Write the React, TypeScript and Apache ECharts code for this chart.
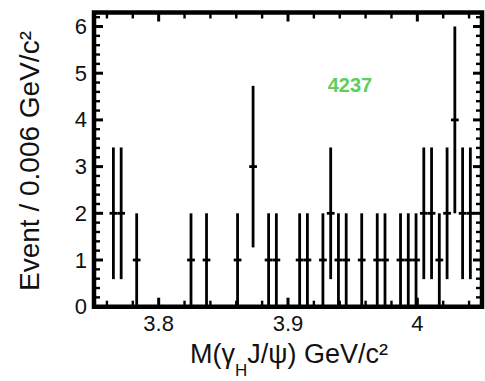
import React, { useEffect, useRef } from 'react';
import * as echarts from 'echarts';

// Bin centres (GeV/c^2), event counts and their error bars
const masses = [3.765, 3.771, 3.783, 3.825, 3.837, 3.861, 3.873, 3.885, 3.891, 3.909, 3.915, 3.927, 3.933, 3.939, 3.945, 3.957, 3.969, 3.975, 3.987, 3.993, 3.999, 4.005, 4.011, 4.017, 4.023, 4.029, 4.035, 4.041];
const counts = [2, 2, 1, 1, 1, 1, 3, 1, 1, 1, 1, 1, 2, 1, 1, 1, 1, 1, 1, 1, 1, 2, 2, 1, 2, 4, 2, 2];
const errors = [1.41, 1.41, 1, 1, 1, 1, 1.73, 1, 1, 1, 1, 1, 1.41, 1, 1, 1, 1, 1, 1, 1, 1, 1.41, 1.41, 1, 1.41, 2, 1.41, 1.41];
const BIN_WIDTH = 0.006;

const xMajorTicks = [3.8, 3.9, 4.0];
const xTickLabels = ['3.8', '3.9', '4'];
const xMinorTicks = [3.76, 3.78, 3.82, 3.84, 3.86, 3.88, 3.92, 3.94, 3.96, 3.98, 4.02, 4.04];
const yMajorTicks = [0, 1, 2, 3, 4, 5, 6];
const yTickLabels = ['0', '1', '2', '3', '4', '5', '6'];
const yMinorTicks = [0.2, 0.4, 0.6, 0.8, 1.2, 1.4, 1.6, 1.8, 2.2, 2.4, 2.6, 2.8, 3.2, 3.4, 3.6, 3.8, 4.2, 4.4, 4.6, 4.8, 5.2, 5.4, 5.6, 5.8, 6.2];

const X_MIN = 3.75;
const X_MAX = 4.05;
const Y_MIN = 0;
const Y_MAX = 6.3;

const FONT = 'Liberation Sans, Arial, Helvetica, sans-serif';

function measure(text: string, size: number) {
  const c = document.createElement('canvas');
  const ctx = c.getContext('2d');
  if (!ctx) return text.length * size * 0.55;
  ctx.font = `${size}px ${FONT}`;
  return ctx.measureText(text).width;
}

function labelFor(v: number, ticks: number[], labels: string[]) {
  for (let i = 0; i < ticks.length; i++) {
    if (Math.abs(v - ticks[i]) < 1e-6) return labels[i];
  }
  return '';
}

export default function App() {
  const ref = useRef<HTMLDivElement>(null);

  useEffect(() => {
    if (!ref.current) return;
    const chart = echarts.init(ref.current, null, { renderer: 'svg' });

    const t1 = 'M(\u03b3';
    const tSub = 'H';
    const t2 = 'J/\u03c8) GeV/c\u00b2';
    const TS = 27;
    const SS = 17;
    const w1 = measure(t1, TS);
    const wS = measure(tSub, SS);
    const w2 = measure(t2, TS);
    const total = w1 + wS + w2;
    const x0 = 289 - total / 2;
    const titleY = 354;

    const xTickData = [
      ...xMajorTicks.map((v) => [v, Y_MIN, 1]),
      ...xMinorTicks.map((v) => [v, Y_MIN, 0]),
    ];
    const yTickData = [
      ...yMajorTicks.filter((v) => v > Y_MIN).map((v) => [X_MIN, v, 1]),
      ...yMinorTicks.map((v) => [X_MIN, v, 0]),
    ];

    const option: any = {
      animation: false,
      grid: { left: 94, right: 3, top: 12.5, bottom: 74.3 },
      xAxis: {
        type: 'value',
        min: X_MIN,
        max: X_MAX,
        splitNumber: 3,
        axisLine: { show: false },
        splitLine: { show: false },
        axisTick: { show: false },
        axisLabel: {
          fontSize: 22,
          fontFamily: FONT,
          color: '#111',
          margin: 6,
          formatter: (v: number) => labelFor(v, xMajorTicks, xTickLabels),
        },
      },
      yAxis: {
        type: 'value',
        min: Y_MIN,
        max: Y_MAX,
        interval: 1,
        axisLine: { show: false },
        splitLine: { show: false },
        axisTick: { show: false },
        axisLabel: {
          fontSize: 22,
          fontFamily: FONT,
          color: '#111',
          margin: 7,
          formatter: (v: number) => labelFor(v, yMajorTicks, yTickLabels),
        },
      },
      series: [
        {
          type: 'custom',
          name: 'frame',
          clip: false,
          data: [[X_MIN, Y_MIN]],
          renderItem: (_p: any, api: any) => {
            const a = api.coord([X_MIN, Y_MAX]);
            const b = api.coord([X_MAX, Y_MIN]);
            return {
              type: 'rect',
              shape: { x: a[0], y: a[1], width: b[0] - a[0], height: b[1] - a[1] },
              style: { stroke: '#000', lineWidth: 4.5, fill: 'none' },
            };
          },
        },
        {
          type: 'custom',
          name: 'xTicks',
          clip: false,
          data: xTickData,
          renderItem: (_p: any, api: any) => {
            const x = api.value(0);
            const major = api.value(2) === 1;
            const b = api.coord([x, Y_MIN]);
            const t = api.coord([x, Y_MAX]);
            const len = major ? 9 : 6;
            const st = { stroke: '#000', lineWidth: major ? 3 : 2.4 };
            return {
              type: 'group',
              children: [
                { type: 'line', shape: { x1: b[0], y1: b[1], x2: b[0], y2: b[1] - len }, style: st },
                { type: 'line', shape: { x1: t[0], y1: t[1], x2: t[0], y2: t[1] + len }, style: st },
              ],
            };
          },
        },
        {
          type: 'custom',
          name: 'yTicks',
          clip: false,
          data: yTickData,
          renderItem: (_p: any, api: any) => {
            const y = api.value(1);
            const major = api.value(2) === 1;
            const l = api.coord([X_MIN, y]);
            const r = api.coord([X_MAX, y]);
            const len = major ? 9 : 6;
            const st = { stroke: '#000', lineWidth: major ? 3 : 2.4 };
            return {
              type: 'group',
              children: [
                { type: 'line', shape: { x1: l[0], y1: l[1], x2: l[0] + len, y2: l[1] }, style: st },
                { type: 'line', shape: { x1: r[0], y1: r[1], x2: r[0] - len, y2: r[1] }, style: st },
              ],
            };
          },
        },
        {
          type: 'custom',
          name: 'data',
          clip: false,
          encode: { x: 0, y: 1 },
          data: masses.map((m, i) => [m, counts[i], errors[i]]),
          renderItem: (_p: any, api: any) => {
            const x = api.value(0);
            const y = api.value(1);
            const e = api.value(2);
            const top = api.coord([x, y + e]);
            const bot = api.coord([x, Math.max(Y_MIN, y - e)]);
            const l = api.coord([x - BIN_WIDTH / 2, y]);
            const r = api.coord([x + BIN_WIDTH / 2, y]);
            const st = { stroke: '#000', lineWidth: 2.8 };
            return {
              type: 'group',
              children: [
                { type: 'line', shape: { x1: top[0], y1: top[1], x2: bot[0], y2: bot[1] }, style: st },
                { type: 'line', shape: { x1: l[0], y1: l[1], x2: r[0], y2: r[1] }, style: st },
              ],
            };
          },
        },
      ],
      graphic: [
        {
          type: 'text',
          x: 29,
          y: 161,
          rotation: Math.PI / 2,
          style: {
            text: 'Event / 0.006 GeV/c\u00b2',
            fontSize: 28,
            fontFamily: FONT,
            fill: '#111',
            align: 'center',
            verticalAlign: 'middle',
          },
        },
        {
          type: 'text',
          x: x0,
          y: titleY,
          style: { text: t1, fontSize: TS, fontFamily: FONT, fill: '#111', align: 'left', verticalAlign: 'middle' },
        },
        {
          type: 'text',
          x: x0 + w1,
          y: titleY + 16,
          style: { text: tSub, fontSize: SS, fontFamily: FONT, fill: '#111', align: 'left', verticalAlign: 'middle' },
        },
        {
          type: 'text',
          x: x0 + w1 + wS,
          y: titleY,
          style: { text: t2, fontSize: TS, fontFamily: FONT, fill: '#111', align: 'left', verticalAlign: 'middle' },
        },
        {
          type: 'text',
          x: 350,
          y: 85,
          style: {
            text: '4237',
            fontSize: 20,
            fontWeight: 'bold',
            fontFamily: FONT,
            fill: '#5ccf5c',
            align: 'center',
            verticalAlign: 'middle',
          },
        },
      ],
    };

    chart.setOption(option);
    return () => chart.dispose();
  }, []);

  return (
    <div
      ref={ref}
      style={{ position: 'absolute', left: 0, top: 0, width: 485, height: 381, background: '#fff' }}
    />
  );
}
